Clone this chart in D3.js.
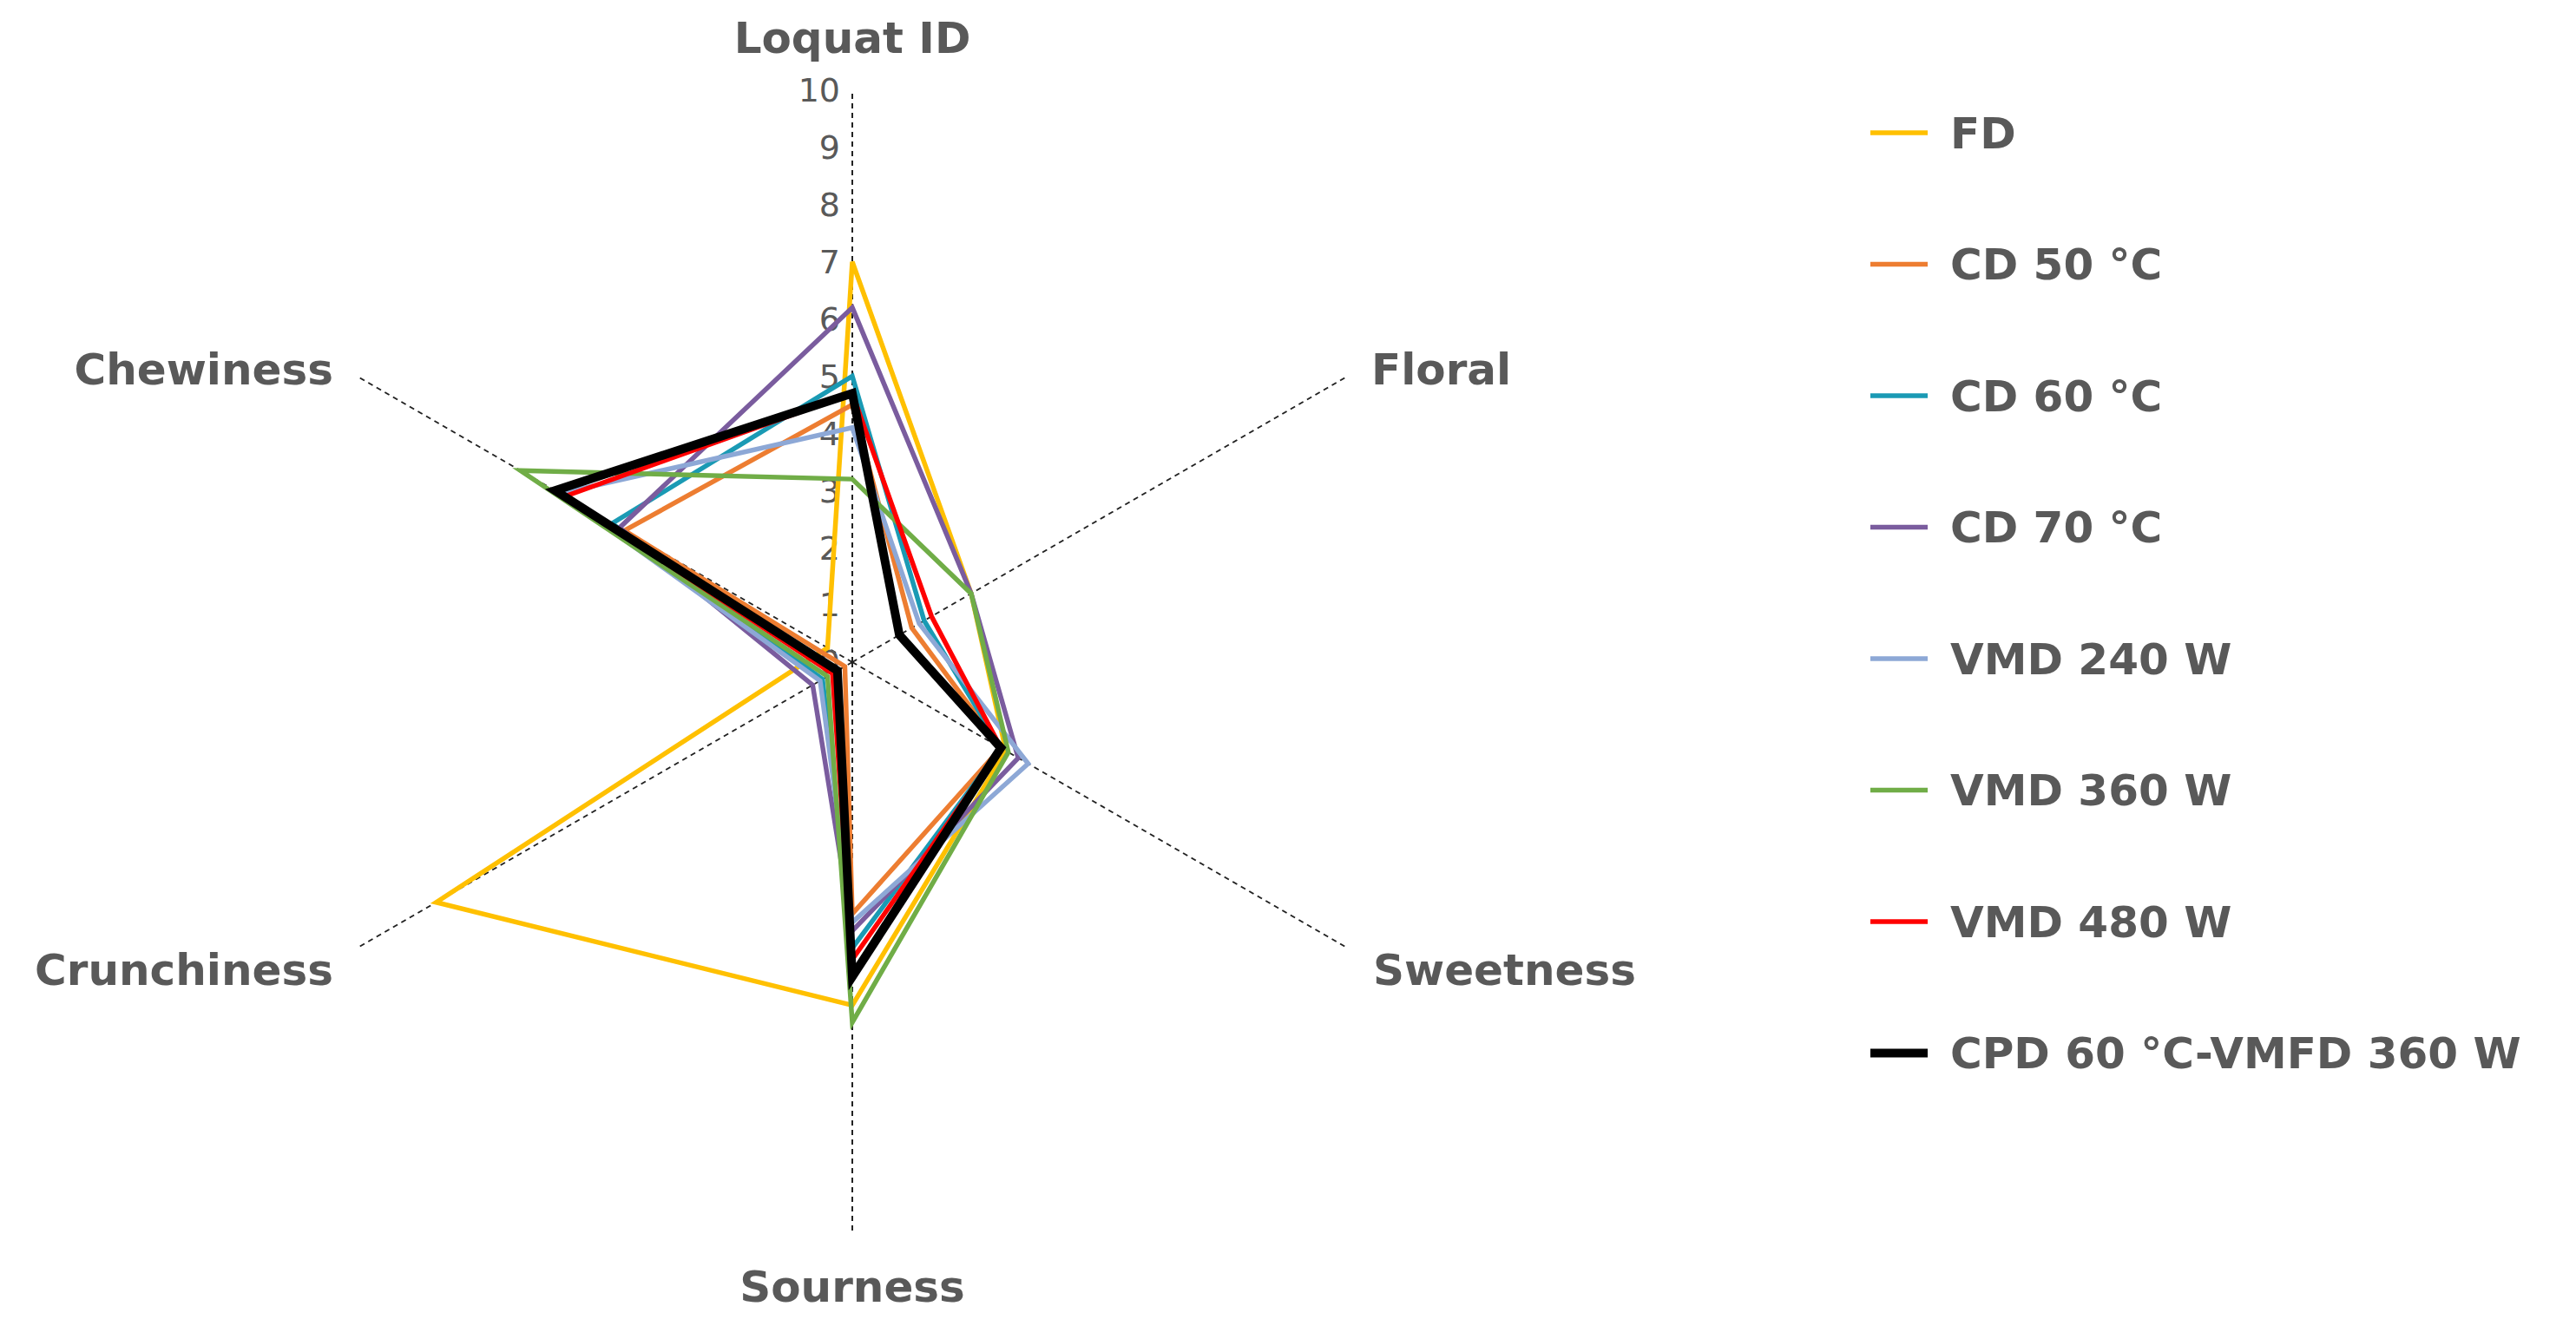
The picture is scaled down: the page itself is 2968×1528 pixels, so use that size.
<!DOCTYPE html>
<html>
<head>
<meta charset="utf-8">
<script src="https://cdn.jsdelivr.net/npm/d3@7"></script>
<style>
  body { margin: 0; background: #fff; }
  text { font-family: "DejaVu Sans", Verdana, sans-serif; }
</style>
</head>
<body>
<script>
// axes and series
var axes = ["Loquat ID", "Floral", "Sweetness", "Sourness", "Crunchiness", "Chewiness"];
var seriesNames = ["FD", "CD 50 \u00B0C", "CD 60 \u00B0C", "CD 70 \u00B0C", "VMD 240 W", "VMD 360 W", "VMD 480 W", "CPD 60 \u00B0C-VMFD 360 W"];
var colors = ["#FFC000", "#ED7D31", "#1A9AB4", "#7A5C9E", "#8DA8D6", "#70AD47", "#FF0000", "#000000"];
var fd      = [7.0, 2.4, 3.1, 6.0, 8.4, 0.5];
var cd50    = [4.5, 1.2, 3.0, 4.4, 0.15, 4.6];
var cd60    = [5.0, 1.45, 3.0, 5.0, 0.6, 4.85];
var cd70    = [6.2, 2.4, 3.35, 4.7, 0.8, 4.7];
var vmd240  = [4.1, 1.35, 3.55, 4.55, 0.65, 5.9];
var vmd360  = [3.2, 2.4, 3.15, 6.3, 0.5, 6.7];
var vmd480  = [4.7, 1.6, 3.0, 5.2, 0.4, 5.8];
var cpd     = [4.7, 0.95, 3.0, 5.5, 0.3, 6.0];
var ticks = d3.range(0, 11);

var allSeries = [fd, cd50, cd60, cd70, vmd240, vmd360, vmd480, cpd];

var W = 2968, H = 1528, cx = 982, cy = 763, R = 659;
var grey = "#595959";

var svg = d3.select("body").append("svg").attr("width", W).attr("height", H);
var r = d3.scaleLinear().domain([0, 10]).range([0, R]);
var angle = d3.scaleLinear().domain([0, axes.length]).range([0, 2 * Math.PI]);

var g = svg.append("g").attr("transform", "translate(" + cx + "," + cy + ")");

// spokes
g.selectAll("line.axis").data(axes).enter().append("line")
  .attr("x1", 0).attr("y1", 0)
  .attr("x2", function(d, i) { return r(10) * Math.sin(angle(i)); })
  .attr("y2", function(d, i) { return -r(10) * Math.cos(angle(i)); })
  .attr("stroke", "#222").attr("stroke-width", 2).attr("stroke-dasharray", "6,5");

// tick labels along the top spoke
g.selectAll("text.tick").data(ticks).enter().append("text")
  .attr("x", -14).attr("y", function(d) { return -r(d); })
  .attr("dy", "0.35em").attr("text-anchor", "end")
  .attr("font-size", 38).attr("fill", grey)
  .text(function(d) { return d; });

// axis labels
var labelPos = [
  {x: 0, y: -702, a: "middle"},
  {x: 598, y: -320, a: "start"},
  {x: 600, y: 372, a: "start"},
  {x: 0, y: 737, a: "middle"},
  {x: -598, y: 372, a: "end"},
  {x: -598, y: -320, a: "end"}
];
g.selectAll("text.label").data(axes).enter().append("text")
  .attr("x", function(d, i) { return labelPos[i].x; })
  .attr("y", function(d, i) { return labelPos[i].y; })
  .attr("text-anchor", function(d, i) { return labelPos[i].a; })
  .attr("font-size", 50).attr("font-weight", "bold").attr("fill", grey)
  .text(function(d) { return d; });

// series polygons
var line = d3.lineRadial()
  .angle(function(d, i) { return angle(i); })
  .radius(function(d) { return r(d); })
  .curve(d3.curveLinearClosed);

g.selectAll("path.series").data(allSeries).enter().append("path")
  .attr("d", line)
  .attr("fill", "none")
  .attr("stroke", function(d, i) { return colors[i]; })
  .attr("stroke-width", function(d, i) { return i === 7 ? 10 : 5.5; })
  .attr("stroke-linejoin", "miter");

// legend
var lg = svg.append("g").attr("transform", "translate(2155,153)");
var rows = lg.selectAll("g").data(seriesNames).enter().append("g")
  .attr("transform", function(d, i) { return "translate(0," + i * 151.5 + ")"; });
rows.append("line").attr("x1", 0).attr("x2", 66).attr("y1", 0).attr("y2", 0)
  .attr("stroke", function(d, i) { return colors[i]; })
  .attr("stroke-width", function(d, i) { return i === 7 ? 10 : 5.5; });
rows.append("text").attr("x", 92).attr("y", 0).attr("dy", "0.35em")
  .attr("font-size", 50).attr("font-weight", "bold").attr("fill", grey)
  .text(function(d) { return d; });
</script>
</body>
</html>
